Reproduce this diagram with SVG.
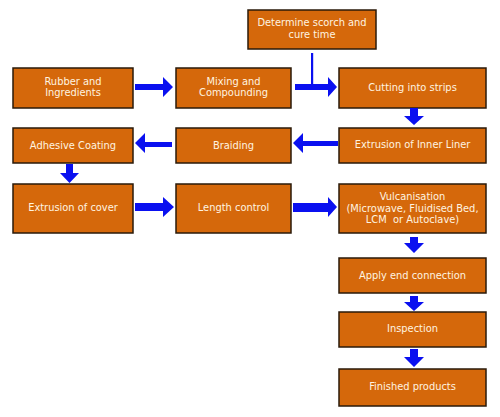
<svg xmlns="http://www.w3.org/2000/svg" width="500" height="417" viewBox="0 0 500 417">
<style>
.box{fill:#d5680b;stroke:#2a1a0a;stroke-width:1.5}
.t{font-family:"DejaVu Sans",Verdana,sans-serif;font-size:9.9px;fill:#fff4e0;text-anchor:middle}
.a{fill:#0a10f0}
</style>
<rect width="500" height="417" fill="#ffffff"/>
<g id="n-determine"><rect class="box" x="248" y="10" width="128" height="39"/><text class="t" x="312" y="26">Determine scorch and</text><text class="t" x="312" y="38">cure time</text></g>
<g id="n-rubber"><rect class="box" x="13" y="68" width="120" height="40"/><text class="t" x="73" y="84.5">Rubber and</text><text class="t" x="73" y="96">Ingredients</text></g>
<g id="n-mixing"><rect class="box" x="176" y="68" width="115" height="40"/><text class="t" x="233.5" y="84.5">Mixing and</text><text class="t" x="233.5" y="96">Compounding</text></g>
<g id="n-cutting"><rect class="box" x="339" y="68" width="147" height="40"/><text class="t" x="412.5" y="90.5">Cutting into strips</text></g>
<g id="n-adhesive"><rect class="box" x="13" y="128" width="120" height="35"/><text class="t" x="73" y="149">Adhesive Coating</text></g>
<g id="n-braiding"><rect class="box" x="176" y="128" width="115" height="35"/><text class="t" x="233.5" y="149">Braiding</text></g>
<g id="n-inner"><rect class="box" x="339" y="128" width="147" height="35"/><text class="t" x="412.5" y="148">Extrusion of Inner Liner</text></g>
<g id="n-cover"><rect class="box" x="13" y="184" width="120" height="49"/><text class="t" x="73" y="211">Extrusion of cover</text></g>
<g id="n-length"><rect class="box" x="176" y="184" width="115" height="49"/><text class="t" x="233.5" y="211">Length control</text></g>
<g id="n-vulc"><rect class="box" x="339" y="184" width="147" height="49"/><text class="t" x="412.5" y="200">Vulcanisation</text><text class="t" x="412.5" y="211.5">(Microwave, Fluidised Bed,</text><text class="t" x="412.5" y="223">LCM&#160; or Autoclave)</text></g>
<g id="n-apply"><rect class="box" x="339" y="258" width="147" height="35"/><text class="t" x="412.5" y="279">Apply end connection</text></g>
<g id="n-inspection"><rect class="box" x="339" y="312" width="147" height="35"/><text class="t" x="412.5" y="332">Inspection</text></g>
<g id="n-finished"><rect class="box" x="339" y="369" width="147" height="37"/><text class="t" x="412.5" y="390">Finished products</text></g>
<g id="connectors">
<polygon class="a" points="135,84 163,84 163,77 173,87 163,97 163,90 135,90"/>
<rect class="a" x="311" y="53" width="2.2" height="33"/>
<polygon class="a" points="295,84 328,84 328,77 337,87 328,97 328,90 295,90"/>
<polygon class="a" points="410,108 418,108 418,116 424,116 414,125 404,116 410,116"/>
<polygon class="a" points="338,141 303,141 303,133 293,143 303,153 303,146 338,146"/>
<polygon class="a" points="172,142 145,142 145,133 135,143 145,153 145,147 172,147"/>
<polygon class="a" points="66,164 73,164 73,173 79,173 69.5,183 60,173 66,173"/>
<polygon class="a" points="135,203 163,203 163,197 174,207 163,217 163,211 135,211"/>
<polygon class="a" points="293,203 328,203 328,197 337,207 328,217 328,212 293,212"/>
<polygon class="a" points="410,237 418,237 418,243 424,243 414,253 404,243 410,243"/>
<polygon class="a" points="410,296 418,296 418,302 424,302 414,311 404,302 410,302"/>
<polygon class="a" points="410,349 418,349 418,357 424,357 414,367 404,357 410,357"/>
</g>
</svg>
